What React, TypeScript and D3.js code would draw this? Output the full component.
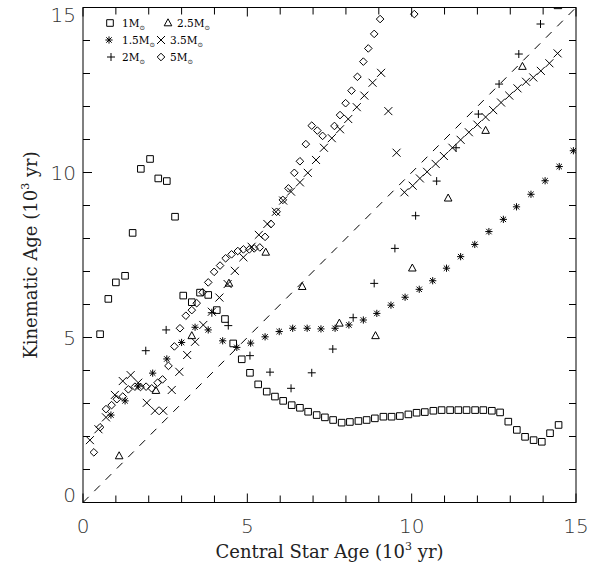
import { useRef, useEffect } from 'react';
import * as d3 from 'd3';

// central star age vs kinematic age, both in 10^3 yr
const m1 = [[0.52,5.10],[0.77,6.17],[1.00,6.67],[1.28,6.87],[1.51,8.17],[1.76,10.11],[2.04,10.41],[2.29,9.82],[2.55,9.74],[2.80,8.66],[3.05,6.27],[3.31,6.07],[3.56,6.36],[3.81,6.29],[4.07,5.83],[4.32,5.56],[4.57,4.82],[4.83,4.34],[5.08,3.93],[5.33,3.58],[5.59,3.36],[5.84,3.21],[6.09,3.08],[6.35,2.95],[6.60,2.87],[6.85,2.75],[7.11,2.65],[7.36,2.58],[7.61,2.50],[7.87,2.42],[8.12,2.44],[8.38,2.47],[8.63,2.50],[8.88,2.55],[9.14,2.60],[9.39,2.60],[9.64,2.62],[9.90,2.67],[10.15,2.72],[10.40,2.74],[10.66,2.78],[10.91,2.80],[11.17,2.80],[11.42,2.80],[11.67,2.80],[11.93,2.80],[12.18,2.80],[12.44,2.78],[12.69,2.73],[12.94,2.45],[13.20,2.20],[13.45,1.99],[13.71,1.89],[13.96,1.84],[14.21,2.10],[14.47,2.35]];
const m15 = [[0.85,2.65],[1.28,3.08],[1.68,3.53],[2.12,3.92],[2.55,4.35],[3.00,4.85],[3.41,5.31],[3.81,5.23],[4.25,4.90],[4.68,4.70],[5.10,4.83],[5.54,5.02],[5.97,5.18],[6.38,5.28],[6.82,5.28],[7.24,5.26],[7.67,5.28],[8.09,5.38],[8.53,5.53],[8.94,5.73],[9.37,5.98],[9.80,6.22],[10.23,6.46],[10.64,6.72],[11.06,7.10],[11.49,7.45],[11.92,7.82],[12.35,8.21],[12.79,8.58],[13.19,8.96],[13.63,9.34],[14.06,9.75],[14.49,10.18],[14.92,10.66]];
const m2 = [[1.91,4.60],[2.53,5.23],[3.92,5.75],[4.42,5.36],[5.08,4.45],[5.69,3.95],[6.33,3.46],[6.96,3.93],[7.60,4.65],[8.22,5.60],[8.86,6.64],[9.49,7.70],[10.12,8.69],[10.76,9.74],[11.35,10.75],[12.03,11.77],[12.66,12.68],[13.26,13.59],[13.92,14.50]];
const m25 = [[1.10,1.41],[2.22,3.39],[3.31,5.05],[4.44,6.64],[5.56,7.58],[6.67,6.54],[7.80,5.43],[8.90,5.05],[10.02,7.10],[11.11,9.22],[12.25,11.27],[13.37,13.21],[14.45,15.05]];
const m35 = [[0.21,1.89],[0.47,2.22],[0.70,2.58],[0.97,3.26],[1.21,3.68],[1.45,3.86],[1.68,3.63],[1.94,3.02],[2.19,2.78],[2.44,2.78],[2.70,3.41],[2.93,3.96],[3.17,4.47],[3.41,4.87],[3.66,5.38],[3.92,5.78],[4.15,6.21],[4.40,6.62],[4.62,7.02],[4.88,7.43],[5.13,7.75],[5.35,8.11],[5.61,8.44],[5.87,8.81],[6.09,9.15],[6.33,9.42],[6.60,9.70],[6.84,9.99],[7.09,10.38],[7.33,10.75],[7.57,11.04],[7.82,11.31],[8.07,11.62],[8.33,11.98],[8.56,12.33],[8.81,12.72],[9.07,13.02],[9.29,11.86],[9.54,10.60],[9.78,9.40],[10.03,9.60],[10.25,9.82],[10.47,10.02],[10.73,10.26],[10.98,10.50],[11.24,10.75],[11.49,10.99],[11.74,11.22],[12.00,11.45],[12.25,11.68],[12.48,11.89],[12.72,12.12],[12.97,12.33],[13.22,12.55],[13.48,12.75],[13.70,12.88],[13.93,13.08],[14.19,13.31],[14.44,13.61]];
const m5 = [[0.33,1.52],[0.52,2.28],[0.70,2.83],[0.87,2.95],[1.03,3.13],[1.21,3.21],[1.38,3.43],[1.58,3.51],[1.75,3.50],[1.92,3.51],[2.09,3.46],[2.27,3.63],[2.42,3.73],[2.60,4.14],[2.78,4.73],[2.95,5.28],[3.13,5.66],[3.31,5.83],[3.46,6.04],[3.64,6.37],[3.81,6.67],[3.99,6.99],[4.17,7.18],[4.34,7.40],[4.52,7.52],[4.71,7.62],[4.88,7.67],[5.06,7.67],[5.21,7.70],[5.38,7.73],[5.54,8.05],[5.72,8.44],[5.89,8.81],[6.08,9.17],[6.25,9.52],[6.43,9.99],[6.60,10.34],[6.78,10.86],[6.96,11.42],[7.13,11.27],[7.29,11.11],[7.65,11.41],[7.82,11.74],[7.99,12.10],[8.17,12.48],[8.35,12.90],[8.53,13.36],[8.68,13.76],[8.86,14.20],[9.04,14.65],[10.08,14.80]];

const majorTicks = [0, 5, 10, 15];
const minorTicks = d3.range(0, 16);

const series = [
  { label: '1', sym: 'square', data: m1 },
  { label: '1.5', sym: 'asterisk', data: m15 },
  { label: '2', sym: 'plus', data: m2 },
  { label: '2.5', sym: 'triangle', data: m25 },
  { label: '3.5', sym: 'cross', data: m35 },
  { label: '5', sym: 'diamond', data: m5 },
];

// legend laid out as in the figure: two columns, three rows
const legendRows = [['square', '1', 'triangle', '2.5'], ['asterisk', '1.5', 'cross', '3.5'], ['plus', '2', 'diamond', '5']];

const symPath = (sym: string, x: number, y: number) => {
  const p = d3.path();
  if (sym === 'square') { p.rect(x - 3.3, y - 3.3, 6.6, 6.6); }
  else if (sym === 'plus') { p.moveTo(x - 4, y); p.lineTo(x + 4, y); p.moveTo(x, y - 4); p.lineTo(x, y + 4); }
  else if (sym === 'cross') { p.moveTo(x - 4, y - 4); p.lineTo(x + 4, y + 4); p.moveTo(x - 4, y + 4); p.lineTo(x + 4, y - 4); }
  else if (sym === 'asterisk') {
    p.moveTo(x - 3.6, y); p.lineTo(x + 3.6, y); p.moveTo(x, y - 3.6); p.lineTo(x, y + 3.6);
    p.moveTo(x - 2.7, y - 2.7); p.lineTo(x + 2.7, y + 2.7); p.moveTo(x - 2.7, y + 2.7); p.lineTo(x + 2.7, y - 2.7);
  }
  else if (sym === 'diamond') { p.moveTo(x, y - 3.8); p.lineTo(x + 3.8, y); p.lineTo(x, y + 3.8); p.lineTo(x - 3.8, y); p.closePath(); }
  else if (sym === 'triangle') { p.moveTo(x, y - 4.2); p.lineTo(x + 3.8, y + 2.8); p.lineTo(x - 3.8, y + 2.8); p.closePath(); }
  return p.toString();
};

const App = () => {
  const ref = useRef<SVGSVGElement>(null);
  const width = 592, height = 569;
  const left = 83, right = 576, top = 7.5, bottom = 502.5;

  useEffect(() => {
    const svg = d3.select(ref.current);
    svg.selectAll('*').remove();

    const x = d3.scaleLinear().domain([0, 15]).range([left, right]);
    const y = d3.scaleLinear().domain([0, 15]).range([bottom, top]);

    svg.append('rect').attr('width', width).attr('height', height).attr('fill', 'white');

    svg.append('clipPath').attr('id', 'plotclip')
      .append('rect').attr('x', left).attr('y', top).attr('width', right - left).attr('height', bottom - top);

    // one-to-one line
    svg.append('line')
      .attr('x1', x(0)).attr('y1', y(0)).attr('x2', x(15)).attr('y2', y(15))
      .attr('stroke', '#000').attr('stroke-width', 1).attr('stroke-dasharray', '8 8');

    const marks = svg.append('g').attr('clip-path', 'url(#plotclip)');
    series.forEach(s => {
      marks.selectAll(null)
        .data(s.data)
        .enter()
        .append('path')
        .attr('d', d => symPath(s.sym, x(d[0]), y(d[1])))
        .attr('fill', 'none')
        .attr('stroke', '#000')
        .attr('stroke-width', 1);
    });

    // frame + inward ticks on all sides
    svg.append('rect')
      .attr('x', left).attr('y', top).attr('width', right - left).attr('height', bottom - top)
      .attr('fill', 'none').attr('stroke', '#000').attr('stroke-width', 1);

    const ticks = svg.append('g').attr('stroke', '#000').attr('stroke-width', 1);
    minorTicks.forEach(t => {
      const len = majorTicks.includes(t) ? 9 : 7;
      ticks.append('line').attr('x1', x(t)).attr('x2', x(t)).attr('y1', bottom).attr('y2', bottom - len);
      ticks.append('line').attr('x1', x(t)).attr('x2', x(t)).attr('y1', top).attr('y2', top + len);
      ticks.append('line').attr('y1', y(t)).attr('y2', y(t)).attr('x1', left).attr('x2', left + len);
      ticks.append('line').attr('y1', y(t)).attr('y2', y(t)).attr('x1', right).attr('x2', right - len);
    });

    const tickFont = { family: 'DejaVu Sans', size: 20 };
    svg.selectAll('.xl').data(majorTicks).enter().append('text')
      .attr('x', d => x(d)).attr('y', 533)
      .attr('text-anchor', 'middle')
      .attr('font-family', tickFont.family).attr('font-weight', 200).attr('font-size', tickFont.size)
      .attr('fill', '#333')
      .text(d => d);
    svg.selectAll('.yl').data(majorTicks).enter().append('text')
      .attr('x', 76).attr('y', d => Math.min(Math.max(y(d), 15), 495) + 7)
      .attr('text-anchor', 'end')
      .attr('font-family', tickFont.family).attr('font-weight', 200).attr('font-size', tickFont.size)
      .attr('fill', '#333')
      .text(d => d);

    const xt = svg.append('text')
      .attr('x', (left + right) / 2).attr('y', 558)
      .attr('text-anchor', 'middle')
      .attr('font-family', 'DejaVu Serif').attr('font-size', 18).attr('fill', '#222');
    xt.append('tspan').text('Central Star Age (10');
    xt.append('tspan').attr('font-size', 11).attr('dy', -8).text('3');
    xt.append('tspan').attr('dy', 8).text(' yr)');

    const yt = svg.append('text')
      .attr('transform', `translate(37, ${(top + bottom) / 2}) rotate(-90)`)
      .attr('text-anchor', 'middle')
      .attr('font-family', 'DejaVu Serif').attr('font-size', 18).attr('fill', '#222');
    yt.append('tspan').text('Kinematic Age (10');
    yt.append('tspan').attr('font-size', 11).attr('dy', -8).text('3');
    yt.append('tspan').attr('dy', 8).text(' yr)');

    // legend
    const lg = svg.append('g');
    const rowY = [23, 40, 57];
    const colSym = [[110, 168], [109, 161], [111, 161]];
    const colTxt = [[122, 177], [122, 170], [122, 170]];
    legendRows.forEach((row, i) => {
      [0, 1].forEach(c => {
        lg.append('path')
          .attr('d', symPath(row[c * 2], colSym[i][c], rowY[i]))
          .attr('fill', 'none').attr('stroke', '#000').attr('stroke-width', 1);
        const t = lg.append('text')
          .attr('x', colTxt[i][c]).attr('y', rowY[i] + 4)
          .attr('font-family', 'DejaVu Serif').attr('font-size', 10.5);
        t.append('tspan').text(`${row[c * 2 + 1]}M`);
        t.append('tspan').attr('font-size', 6.5).attr('dy', 3).attr('font-family', 'DejaVu Sans').text('\u2299');
      });
    });
  }, []);

  return (
    <div style={{ position: 'absolute', left: 0, top: 0 }}>
      <svg ref={ref} width={width} height={height}></svg>
    </div>
  );
};

export default App;
